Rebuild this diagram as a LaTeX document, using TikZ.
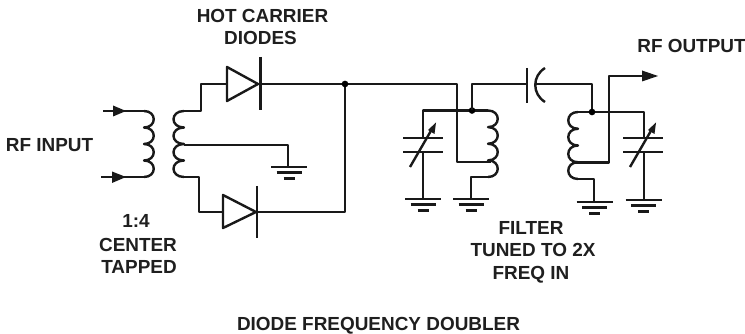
\documentclass[tikz,border=0pt]{standalone}
\usepackage{fontspec}
\setmainfont{Liberation Sans}
\tikzset{
  x=0.75pt,y=-0.75pt,
  wire/.style={line width=1.8pt,line join=round,color=black!90},
  lbl/.style={font=\bfseries\fontsize{14.2}{16}\selectfont,inner sep=0pt,anchor=base,text=black!88},
  dot/.style={circle,fill=black,inner sep=0pt,minimum size=5pt},
  head/.style={fill=black!90},
}
% coil: start x, start y, total height, signed control offset; four bumps
\newcommand{\coilpath}[4]{%
  \draw[wire] (#1,#2)
  \foreach \i in {0,1,2,3}{
    .. controls ({#1+#4},{#2+\i*#3/4}) and ({#1+#4},{#2+(\i+1)*#3/4}) .. (#1,{#2+(\i+1)*#3/4})
  };}
% ground: centre x, top y
\newcommand{\gnd}[2]{%
  \draw[wire] ({#1-18},#2) -- ({#1+18},#2);
  \draw[wire] ({#1-12.5},{#2+5.7}) -- ({#1+12.5},{#2+5.7});
  \draw[wire] ({#1-5.5},{#2+11.5}) -- ({#1+5.5},{#2+11.5});}
% variable capacitor: centre x, top-plate y
\newcommand{\vcap}[2]{%
  \draw[wire] ({#1-20},#2) -- ({#1+20},#2);
  \draw[wire] ({#1-20},{#2+14}) -- ({#1+20},{#2+14});
  \draw[wire] ({#1-13},{#2+29}) -- ({#1+9},{#2-9});
  \fill[head] ({#1+13},{#2-15.5}) -- ({#1+11.5},{#2-4}) -- ({#1+5},{#2-8}) -- cycle;}
\begin{document}
\begin{tikzpicture}
\useasboundingbox (0,0) rectangle (745,334);
\fill[white] (0,0) rectangle (745,334);

% named points
\coordinate (j1) at (345,84);
\coordinate (j2) at (472,110.5);
\coordinate (j3) at (592,112);
\coordinate (in1) at (103,111);
\coordinate (in2) at (101,177);
\coordinate (pt) at (144,111);
\coordinate (pb) at (144,177);

% input
\draw[wire] (in1) -- (pt);
\draw[wire] (in2) -- (pb);
\fill[head] (113,105.5) -- (126,111) -- (113,116.5) -- cycle;
\fill[head] (112,171.5) -- (126,177) -- (112,183) -- cycle;
\coilpath{144}{111}{66}{13}

% secondary
\coilpath{184}{111}{66}{-14}
\draw[wire] (184,111) -- (201,111) -- (201,84) -- (227,84);
\draw[wire] (184,177) -- (199,177) -- (199,212) -- (223,212);
\draw[wire] (184,145) -- (288,145) -- (288,167);
\gnd{289}{167}

% diodes
\draw[wire] (227,67) -- (258,84) -- (227,101) -- cycle;
\draw[wire] (260.5,57) -- (260.5,110);
\draw[wire] (223,195) -- (256,212) -- (223,228) -- cycle;
\draw[wire] (257,186) -- (257,238);
\draw[wire] (258,84) -- (457,84) -- (457,162) -- (491,162);
\draw[wire] (345,84) -- (345,212) -- (256,212);
\node[dot] (d1) at (j1) {};

% left filter
\draw[wire] (423,199) -- (423,152);
\draw[wire] (423,138) -- (423,110.5) -- (488,110.5);
\coilpath{488}{110.5}{66.5}{13}
\draw[wire] (488,177) -- (471,177) -- (471,199);
\vcap{423}{138}
\gnd{423}{199}
\gnd{471}{199}
\node[dot] (d2) at (j2) {};
\draw[wire] (j2) -- (472,84) -- (527,84);

% coupling capacitor
\draw[wire] (527,68) -- (527,103);
\draw[wire] (545,68) .. controls (532,76) and (532,94) .. (545,102);
\draw[wire] (535,84) -- (592,84) -- (j3);

% right filter
\coilpath{578}{112}{67}{-13}
\draw[wire] (578,112) -- (644,112) -- (644,138);
\draw[wire] (644,152) -- (644,200);
\draw[wire] (576,162.5) -- (609,162.5) -- (609,76) -- (645,76);
\fill[head] (642,70.5) -- (658,76) -- (642,81.5) -- cycle;
\draw[wire] (578,179) -- (594,179) -- (594,202);
\vcap{643}{138}
\gnd{594.5}{202}
\gnd{643.5}{200}
\node[dot] (d3) at (j3) {};

% labels
\node[lbl] (t1) at (262.5,23) {HOT CARRIER};
\node[lbl] (t2) at (260.5,45) {DIODES};
\node[lbl] (t3) at (49.5,152) {RF INPUT};
\node[lbl] (t4) at (136,228) {1:4};
\node[lbl] (t5) at (138,251.5) {CENTER};
\node[lbl] (t6) at (139,274) {TAPPED};
\node[lbl] (t7) at (531,235) {FILTER};
\node[lbl] (t8) at (533,257) {TUNED TO 2X};
\node[lbl] (t9) at (531,280) {FREQ IN};
\node[lbl] (t10) at (691.5,53) {RF OUTPUT};
\node[lbl] (t11) at (378.5,330) {DIODE FREQUENCY DOUBLER};
\end{tikzpicture}
\end{document}
